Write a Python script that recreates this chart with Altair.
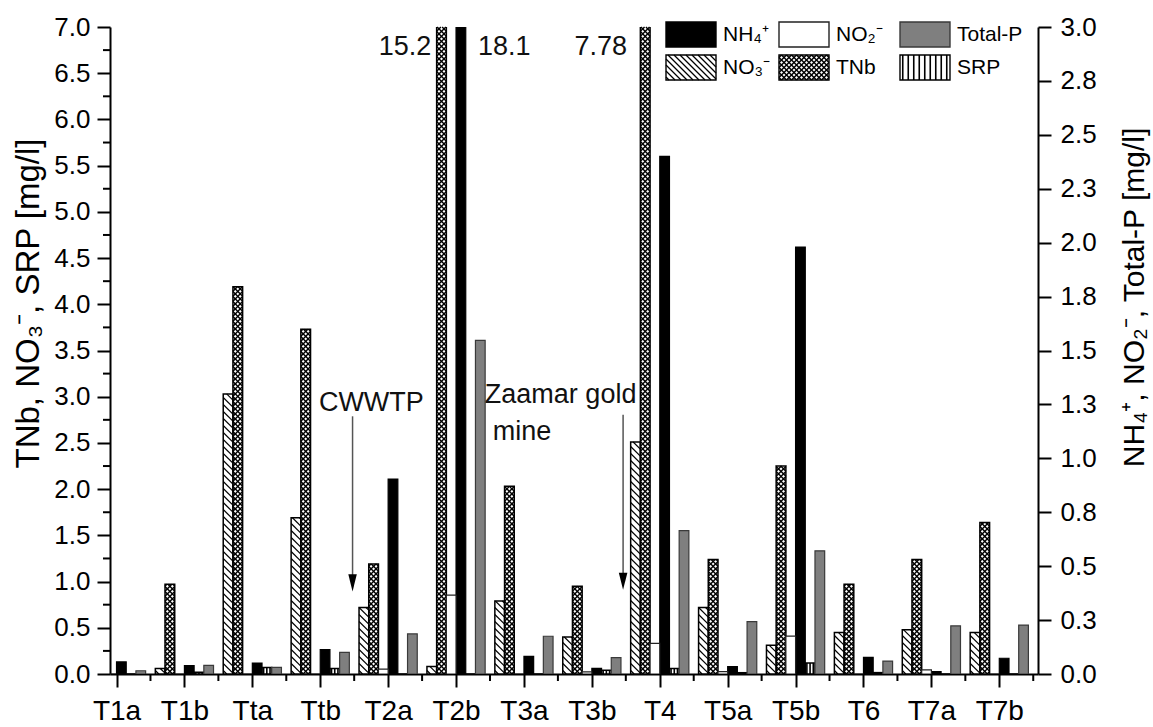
import altair as alt
import pandas as pd

# ---------------- data ----------------
sites = ["T1a", "T1b", "Tta", "Ttb", "T2a", "T2b", "T3a", "T3b", "T4", "T5a", "T5b", "T6", "T7a", "T7b"]
# left axis: TNb, NO3-, SRP [mg/l]
no3 = [0.00, 0.06, 3.03, 1.69, 0.72, 0.08, 0.79, 0.40, 2.51, 0.72, 0.31, 0.45, 0.48, 0.45]
tnb = [0.00, 0.97, 4.19, 3.73, 1.19, 15.2, 2.03, 0.95, 7.78, 1.24, 2.25, 0.97, 1.24, 1.64]
srp = [0.00, 0.02, 0.07, 0.06, 0.00, 0.00, 0.00, 0.04, 0.06, 0.014, 0.12, 0.015, 0.00, 0.00]
# right axis: NH4+, NO2-, Total-P [mg/l]
nh4 = [0.056, 0.039, 0.051, 0.113, 0.904, 18.1, 0.082, 0.026, 2.40, 0.034, 1.98, 0.077, 0.011, 0.073]
no2 = [0.00, 0.00, 0.00, 0.00, 0.023, 0.366, 0.00, 0.01, 0.142, 0.011, 0.176, 0.00, 0.019, 0.00]
tp = [0.015, 0.040, 0.031, 0.100, 0.186, 1.547, 0.175, 0.076, 0.665, 0.243, 0.571, 0.060, 0.223, 0.227]

left_ticks = [i * 0.5 for i in range(15)]
left_minor = [0.25 + i * 0.5 for i in range(14)]
right_ticks = [i * 0.25 for i in range(13)]
x_minor = [1.5 + i for i in range(14)]

ann_text = ["15.2", "18.1", "7.78", "CWWTP", "Zaamar gold", "mine"]
ann_x = [5.25, 6.71, 8.13, 4.753, 7.54, 6.539]
ann_y = [6.78, 6.78, 6.78, 2.936, 3.023, 2.622]
ann_align = ["center", "center", "center", "center", "center", "left"]
arrow_x = [4.476, 8.46]
arrow_top = [2.788, 2.806]
arrow_head = [0.986, 1.004]

legend_names = ["NH₄⁺", "NO₂⁻", "Total-P", "NO₃⁻", "TNb", "SRP"]
legend_series = ["NH4", "NO2", "TP", "NO3", "TNb", "SRP"]

# ---------------- layout ----------------
FONT = "Liberation Sans"
X_MIN, X_MAX = 0.904, 14.57
PLOT_W, PLOT_H = 928, 647
L_MAX, R_MAX = 7.0, 3.0
KX = PLOT_W / (X_MAX - X_MIN)
KY = PLOT_H / L_MAX
BW = 9.7 / KX
slot = {"NO3": 0, "TNb": 1, "NO2": 2, "NH4": 3, "SRP": 4, "TP": 5}
series_dom = ["NO3", "TNb", "NO2", "NH4", "SRP", "TP"]
fill_rng = ["white", "white", "white", "black", "white", "#7f7f7f"]
stroke_rng = ["black", "black", "#222222", "black", "black", "#3a3a3a"]


def hatch_box(W, H, kind, step):
    """segments (xa, ya, xb, yb) inside a W x H box, y measured upward"""
    segs = []
    if kind in ("back", "cross"):
        c = step / 2
        while c < W + H:
            xa, xb = max(0.0, c - H), min(W, c)
            if xb > xa:
                segs.append((xa, c - xa, xb, c - xb))
            c += step
    if kind in ("fwd", "cross"):
        c = -W + step / 2
        while c < H:
            xa, xb = max(0.0, -c), min(W, H - c)
            if xb > xa:
                segs.append((xa, c + xa, xb, c + xb))
            c += step
    if kind == "vert":
        c = step / 2
        while c < W:
            segs.append((c, 0.0, c, H))
            c += step
    return segs


hatch_kind = {"NO3": ("back", 7.0), "TNb": ("cross", 5.0), "SRP": ("vert", 3.2)}
hatch_width = {"NO3": 1.2, "TNb": 1.6, "SRP": 1.0}


def bars(name, vals):
    rows = []
    for i, v in enumerate(vals):
        c = i + 1 + (slot[name] - 2.5) * BW
        rows.append(dict(series=name, site=sites[i], x=c - BW / 2, x2=c + BW / 2, y=0.0, y2=v))
    return rows


left_df = pd.DataFrame(bars("NO3", no3) + bars("TNb", tnb) + bars("SRP", srp))
right_df = pd.DataFrame(bars("NH4", nh4) + bars("NO2", no2) + bars("TP", tp))

hrows = []
for _, r in left_df.iterrows():
    if r["y2"] <= 0:
        continue
    kind, step = hatch_kind[r["series"]]
    W = (r["x2"] - r["x"]) * KX
    H = min(r["y2"], L_MAX) * KY
    for xa, ya, xb, yb in hatch_box(W, H, kind, step):
        hrows.append(dict(series=r["series"], x=r["x"] + xa / KX, x2=r["x"] + xb / KX,
                          y=ya / KY, y2=yb / KY))
hatch_df = pd.DataFrame(hrows)

# legend (pixel space)
lg_left = [556, 669, 790]
lg_top = [-5, 28]
lg_w, lg_h = 50, 25
lrows, lhatch = [], []
for k, (nm, s) in enumerate(zip(legend_names, legend_series)):
    col, row = k % 3, k // 3
    x0, y0 = lg_left[col], lg_top[row]
    lrows.append(dict(series=s, name=nm, x=x0, x2=x0 + lg_w, y=y0, y2=y0 + lg_h,
                      tx=x0 + lg_w + 7, ty=y0 + lg_h / 2))
    if s in hatch_kind:
        kind, _ = hatch_kind[s]
        step = {"NO3": 6.0, "TNb": 5.0, "SRP": 5.5}[s]
        for xa, ya, xb, yb in hatch_box(lg_w, lg_h, kind, step):
            lhatch.append(dict(series=s, x=x0 + xa, x2=x0 + xb, y=y0 + lg_h - ya, y2=y0 + lg_h - yb))
leg_df = pd.DataFrame(lrows)
leg_hatch_df = pd.DataFrame(lhatch)

ann_df = pd.DataFrame(dict(text=ann_text, x=ann_x, y=ann_y, anchor=ann_align))
arrow_df = pd.DataFrame(dict(x=arrow_x, y=arrow_top, y2=arrow_head))

# ---------------- scales / axes ----------------
xscale = alt.Scale(domain=[X_MIN, X_MAX], nice=False, zero=False)
lscale = alt.Scale(domain=[0, L_MAX], nice=False)
rscale = alt.Scale(domain=[0, R_MAX], nice=False)
fill_scale = alt.Scale(domain=series_dom, range=fill_rng)
stroke_scale = alt.Scale(domain=series_dom, range=stroke_rng)
hw_scale = alt.Scale(domain=list(hatch_width.keys()), range=list(hatch_width.values()))

label_expr = "[" + ",".join("'%s'" % s for s in sites) + "][round(datum.value)-1]"
xaxis = alt.Axis(values=list(range(1, 15)), labelExpr=label_expr, title=None, grid=False,
                 orient="bottom",
                 tickSize=13, tickWidth=2, domainWidth=2, domainColor="black", tickColor="black",
                 labelFontSize=28, labelColor="black", labelPadding=10, labelFlush=False,
                 labelFont=FONT)
laxis = alt.Axis(values=left_ticks, format=".1f", orient="left", grid=False, tickSize=13,
                 tickWidth=2, domainWidth=2, domainColor="black", tickColor="black",
                 labelFontSize=26, labelColor="black", labelPadding=7, labelFont=FONT,
                 labelFlush=False,
                 title="TNb, NO₃⁻, SRP [mg/l]", titleFont=FONT, titleFontSize=33,
                 titleFontWeight="normal", titleColor="black", titleX=-82, titleY=276,
                 titleAngle=270, titleAlign="center", titleBaseline="middle")
raxis = alt.Axis(values=right_ticks, format=".1f", orient="right", grid=False, tickSize=13,
                 tickWidth=2, domainWidth=2, domainColor="black", tickColor="black",
                 labelFontSize=26, labelColor="black", labelPadding=9, labelFont=FONT,
                 labelFlush=False,
                 title="NH₄⁺, NO₂⁻, Total-P [mg/l]", titleFont=FONT, titleFontSize=30,
                 titleFontWeight="normal", titleColor="black", titleX=96, titleY=270,
                 titleAngle=270, titleAlign="center", titleBaseline="middle")


def XL(f="x"):
    return alt.X(f + ":Q", scale=xscale, axis=None)


def YL(f="y"):
    return alt.Y(f + ":Q", scale=lscale, axis=None)


# ---------------- layers ----------------
left_fill = alt.Chart(left_df).mark_rect(clip=True, strokeWidth=0).encode(
    x=alt.X("x:Q", scale=xscale, axis=xaxis), x2="x2:Q",
    y=alt.Y("y:Q", scale=lscale, axis=laxis), y2="y2:Q",
    fill=alt.Fill("series:N", scale=fill_scale, legend=None),
)
hatch = alt.Chart(hatch_df).mark_rule(color="black").encode(
    x=XL(), x2="x2:Q", y=YL(), y2="y2:Q",
    strokeWidth=alt.StrokeWidth("series:N", scale=hw_scale, legend=None),
)
left_outline = alt.Chart(left_df).mark_rect(clip=True, fillOpacity=0, strokeWidth=1.5).encode(
    x=XL(), x2="x2:Q", y=YL(), y2="y2:Q",
    stroke=alt.Stroke("series:N", scale=stroke_scale, legend=None),
)
right_bars = alt.Chart(right_df).mark_rect(clip=True, strokeWidth=1.2).encode(
    x=XL(), x2="x2:Q",
    y=alt.Y("y:Q", scale=rscale, axis=raxis), y2="y2:Q",
    fill=alt.Fill("series:N", scale=fill_scale, legend=None),
    stroke=alt.Stroke("series:N", scale=stroke_scale, legend=None),
)
lminor = alt.Chart(pd.DataFrame(dict(v=left_minor))).mark_rule(strokeWidth=2, color="black").encode(
    y=YL("v"), x=alt.value(-7), x2=alt.value(0))
xminor = alt.Chart(pd.DataFrame(dict(v=x_minor))).mark_rule(strokeWidth=2, color="black").encode(
    x=XL("v"), y=alt.value(PLOT_H), y2=alt.value(PLOT_H + 7))

ann_c = alt.Chart(ann_df[ann_df["anchor"] == "center"]).mark_text(
    font=FONT, fontSize=27, color="#111111", baseline="middle", align="center").encode(
    x=XL(), y=YL(), text="text:N")
ann_l = alt.Chart(ann_df[ann_df["anchor"] == "left"]).mark_text(
    font=FONT, fontSize=27, color="#111111", baseline="middle", align="left").encode(
    x=XL(), y=YL(), text="text:N")
arrow_line = alt.Chart(arrow_df).mark_rule(strokeWidth=1.5, color="#555555").encode(
    x=XL(), y=YL(), y2="y2:Q")
arrow_head_m = alt.Chart(arrow_df).mark_point(
    shape="M-0.5,-1L0.5,-1L0,1Z", size=290, filled=True, color="black", opacity=1).encode(
    x=XL(), y=YL("y2"))

# legend
leg_box_fill = alt.Chart(leg_df).mark_rect(strokeWidth=0).encode(
    x=alt.X("x:Q", scale=None, axis=None), x2="x2:Q",
    y=alt.Y("y:Q", scale=None, axis=None), y2="y2:Q",
    fill=alt.Fill("series:N", scale=fill_scale, legend=None))
leg_hatch = alt.Chart(leg_hatch_df).mark_rule(color="black").encode(
    x=alt.X("x:Q", scale=None, axis=None), x2="x2:Q",
    y=alt.Y("y:Q", scale=None, axis=None), y2="y2:Q",
    strokeWidth=alt.StrokeWidth("series:N", scale=hw_scale, legend=None))
leg_box_line = alt.Chart(leg_df).mark_rect(fillOpacity=0, strokeWidth=1.4).encode(
    x=alt.X("x:Q", scale=None, axis=None), x2="x2:Q",
    y=alt.Y("y:Q", scale=None, axis=None), y2="y2:Q",
    stroke=alt.Stroke("series:N", scale=stroke_scale, legend=None))
leg_text = alt.Chart(leg_df).mark_text(font=FONT, fontSize=21, color="black", align="left",
                                       baseline="middle").encode(
    x=alt.X("tx:Q", scale=None, axis=None), y=alt.Y("ty:Q", scale=None, axis=None), text="name:N")

chart = alt.layer(
    left_fill, hatch, left_outline, right_bars, lminor, xminor, ann_c, ann_l,
    arrow_line, arrow_head_m, leg_box_fill, leg_hatch, leg_box_line, leg_text,
).resolve_scale(x="independent", y="independent").properties(
    width=PLOT_W, height=PLOT_H,
    autosize=alt.AutoSizeParams(type="none"),
    padding={"left": 110, "top": 27, "right": 115, "bottom": 53},
    background="white",
).configure_view(stroke=None)

chart.save("out.html", embed_options={"renderer": "svg", "actions": False})
